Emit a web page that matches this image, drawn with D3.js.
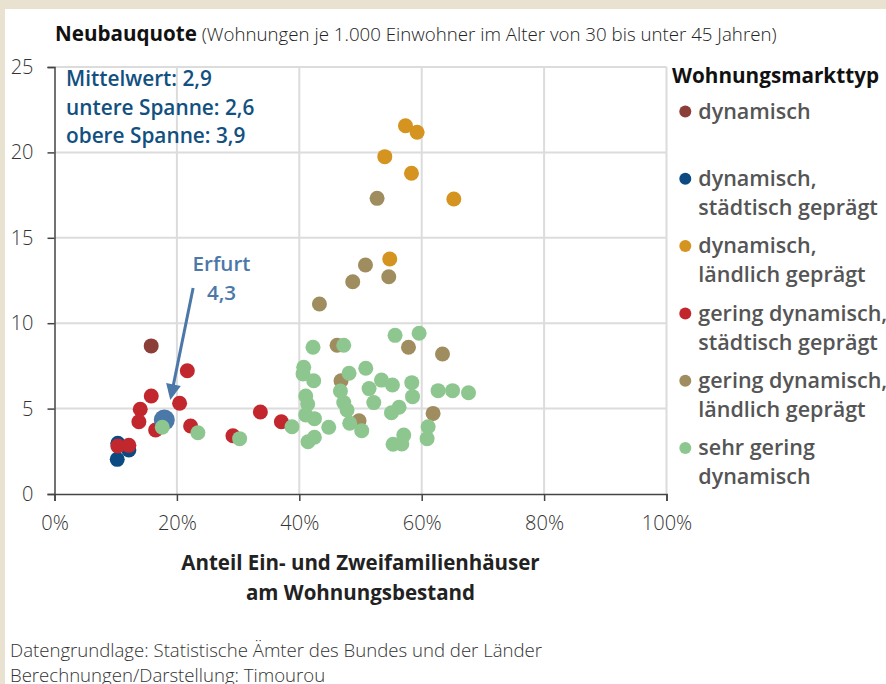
<!DOCTYPE html>
<html><head><meta charset="utf-8">
<script src="https://cdn.jsdelivr.net/npm/d3@7"></script>
<style>
html,body{margin:0;padding:0;background:#e9e2d0;}
svg{display:block;font-family:"Open Sans",sans-serif;}
</style></head>
<body><svg id="c" width="886" height="684"></svg>
<script>
// ---- data ----
const categories = ["dynamisch","dynamisch, städtisch geprägt","dynamisch, ländlich geprägt","gering dynamisch, städtisch geprägt","gering dynamisch, ländlich geprägt","sehr gering dynamisch"];
const legendLines = [["dynamisch"],["dynamisch,","städtisch geprägt"],["dynamisch,","ländlich geprägt"],["gering dynamisch,","städtisch geprägt"],["gering dynamisch,","ländlich geprägt"],["sehr gering","dynamisch"]];
const colors = ["#8b3f38","#0c4a82","#d5931f","#c1272d","#a08d5f","#8dc78f"];
// [Anteil EFH/ZFH in %, Neubauquote]
const dynamisch = [[15.8,8.67]];
const dynStaedtisch = [[10.35,2.97],[12.15,2.58],[10.25,2.03]];
const dynLaendlich = [[57.35,21.56],[59.25,21.18],[53.97,19.75],[58.33,18.78],[65.25,17.27],[54.78,13.76]];
const geringStaedtisch = [[10.35,2.81],[12.15,2.85],[21.7,7.22],[15.81,5.74],[20.44,5.31],[14.01,4.96],[13.79,4.23],[16.52,3.75],[22.24,3.98],[29.16,3.41],[33.64,4.80],[37.07,4.23]];
const geringLaendlich = [[52.71,17.31],[50.81,13.41],[48.73,12.43],[54.62,12.72],[43.29,11.12],[46.17,8.71],[57.84,8.59],[63.40,8.20],[46.82,6.63],[61.86,4.72],[49.76,4.29]];
const sehrGering = [[17.61,3.91],[23.43,3.59],[30.25,3.24],[38.81,3.94],[42.24,8.59],[47.26,8.71],[55.65,9.29],[59.58,9.41],[40.72,7.42],[40.61,7.03],[42.35,6.63],[48.13,7.07],[50.86,7.36],[53.43,6.67],[55.22,6.38],[58.38,6.52],[58.50,5.70],[62.68,6.05],[65.04,6.05],[67.65,5.93],[46.72,6.03],[51.40,6.17],[41.05,5.74],[41.37,5.27],[47.26,5.35],[52.17,5.35],[47.80,4.92],[56.30,5.08],[55.06,4.76],[41.05,4.63],[42.47,4.41],[48.24,4.14],[44.81,3.91],[50.20,3.71],[61.05,3.94],[60.88,3.24],[42.47,3.32],[41.42,3.06],[57.07,3.45],[55.32,2.91],[56.75,2.93]];
const erfurt = [17.94,4.33];
const erfurtLabel = ["Erfurt","4,3"];
const arrowFrom = [22.65,12.06], arrowTo = [18.92,5.50];
const statsLines = ["Mittelwert: 2,9","untere Spanne: 2,6","obere Spanne: 3,9"];
const xTicks = [0,20,40,60,80,100];
const yTicks = [0,5,10,15,20,25];
const title = "Neubauquote", subtitle = " (Wohnungen je 1.000 Einwohner im Alter von 30 bis unter 45 Jahren)";
const xTitle = ["Anteil Ein- und Zweifamilienhäuser","am Wohnungsbestand"];
const legendTitle = "Wohnungsmarkttyp";
const footer = ["Datengrundlage: Statistische Ämter des Bundes und der Länder","Berechnungen/Darstellung: Timourou"];

// draw order (back to front)
const seriesOrder = [[1,dynStaedtisch],[3,geringStaedtisch],[0,dynamisch],[4,geringLaendlich],[2,dynLaendlich]];

const svg = d3.select("#c");
svg.append("rect").attr("x",5).attr("y",9).attr("width",881).attr("height",675).attr("fill","#fff");

const x = d3.scaleLinear().domain([0,100]).range([54.5,666.5]);
const y = d3.scaleLinear().domain([0,25]).range([494,67]);

// grid
const g = svg.append("g");
g.selectAll(".hg").data(yTicks.filter(d=>d>0)).join("line")
 .attr("x1",x(0)).attr("x2",x(100)).attr("y1",d=>y(d)).attr("y2",d=>y(d))
 .attr("stroke","#dcdcdc").attr("stroke-width",2);
g.selectAll(".vg").data(xTicks.filter(d=>d>0)).join("line")
 .attr("y1",y(0)).attr("y2",y(25)).attr("x1",d=>x(d)).attr("x2",d=>x(d))
 .attr("stroke","#dcdcdc").attr("stroke-width",2);

// axes
const xa = svg.append("g").attr("transform",`translate(0,${y(0)})`)
 .call(d3.axisBottom(x).tickValues(xTicks).tickFormat(d=>d+"%").tickSize(7).tickPadding(15));
const ya = svg.append("g").attr("transform",`translate(${x(0)},0)`)
 .call(d3.axisLeft(y).tickValues(yTicks).tickFormat(d=>d).tickSize(7).tickPadding(14));
[xa,ya].forEach(a=>{
  a.selectAll("path,line").attr("stroke","#444").attr("stroke-width",1.5);
  a.selectAll("text").attr("font-family","Open Sans").attr("font-size",20).attr("font-weight",300).attr("fill","#333");
});

// points
const pts = svg.append("g");
seriesOrder.forEach(([ci,data])=>{
  pts.append("g").selectAll("circle").data(data).join("circle")
   .attr("cx",d=>x(d[0])).attr("cy",d=>y(d[1])).attr("r",7.5).attr("fill",colors[ci]);
});
pts.append("circle").attr("cx",x(erfurt[0])).attr("cy",y(erfurt[1])).attr("r",10.5).attr("fill","#4a78a8");
pts.append("g").selectAll("circle").data(sehrGering).join("circle")
 .attr("cx",d=>x(d[0])).attr("cy",d=>y(d[1])).attr("r",7.5).attr("fill",colors[5]);

// Erfurt annotation
const annoColor = "#4b78a8";
const x1=x(arrowFrom[0]), y1=y(arrowFrom[1]), x2=x(arrowTo[0]), y2=y(arrowTo[1]);
const ang = Math.atan2(y2-y1,x2-x1), hl=16, hw=7.5;
const bx = x2-hl*Math.cos(ang), by = y2-hl*Math.sin(ang);
svg.append("line").attr("x1",x1).attr("y1",y1).attr("x2",bx+2*Math.cos(ang)).attr("y2",by+2*Math.sin(ang))
 .attr("stroke",annoColor).attr("stroke-width",3);
svg.append("path").attr("d",`M${x2},${y2}L${bx-hw*Math.sin(ang)},${by+hw*Math.cos(ang)}L${bx+hw*Math.sin(ang)},${by-hw*Math.cos(ang)}Z`).attr("fill",annoColor);
svg.append("g").selectAll("text").data(erfurtLabel).join("text")
 .attr("x",221.5).attr("y",(d,i)=>271+i*28.5).attr("text-anchor","middle")
 .attr("font-size",20.6).attr("font-weight",600).attr("fill",annoColor).text(d=>d);

// stats box text
svg.append("g").selectAll("text").data(statsLines).join("text")
 .attr("x",66).attr("y",(d,i)=>86+i*28.5).attr("font-size",20.8).attr("font-weight",600).attr("fill","#12507f").text(d=>d);

// title
const t = svg.append("text").attr("x",55).attr("y",41);
t.append("tspan").attr("font-size",20.6).attr("font-weight",700).attr("fill","#111").text(title);
t.append("tspan").attr("font-size",18.7).attr("font-weight",300).attr("fill","#222").text(subtitle);

// x-axis title
svg.append("g").selectAll("text").data(xTitle).join("text")
 .attr("x",(x(0)+x(100))/2).attr("y",(d,i)=>570+i*29.5).attr("text-anchor","middle")
 .attr("font-size",20.5).attr("font-weight",700).attr("fill","#222").text(d=>d);

// legend
svg.append("text").attr("x",672).attr("y",83).attr("font-size",20.7).attr("font-weight",700).attr("fill","#111").text(legendTitle);
const lg = svg.append("g").selectAll("g").data(categories).join("g")
 .attr("transform",(d,i)=>`translate(685.3,${111.5+i*67.3})`);
lg.append("circle").attr("r",6).attr("fill",(d,i)=>colors[i]);
lg.each(function(d,i){
  d3.select(this).selectAll("text").data(legendLines[i]).join("text")
   .attr("x",13).attr("y",(s,j)=>7.3+j*29).attr("font-size",21.5).attr("font-weight",600).attr("fill","#555").text(s=>s);
});

// footer
svg.append("g").selectAll("text").data(footer).join("text")
 .attr("x",10).attr("y",(d,i)=>657+i*25).attr("font-size",18.6).attr("font-weight",300).attr("fill","#333").text(d=>d);
</script></body></html>
